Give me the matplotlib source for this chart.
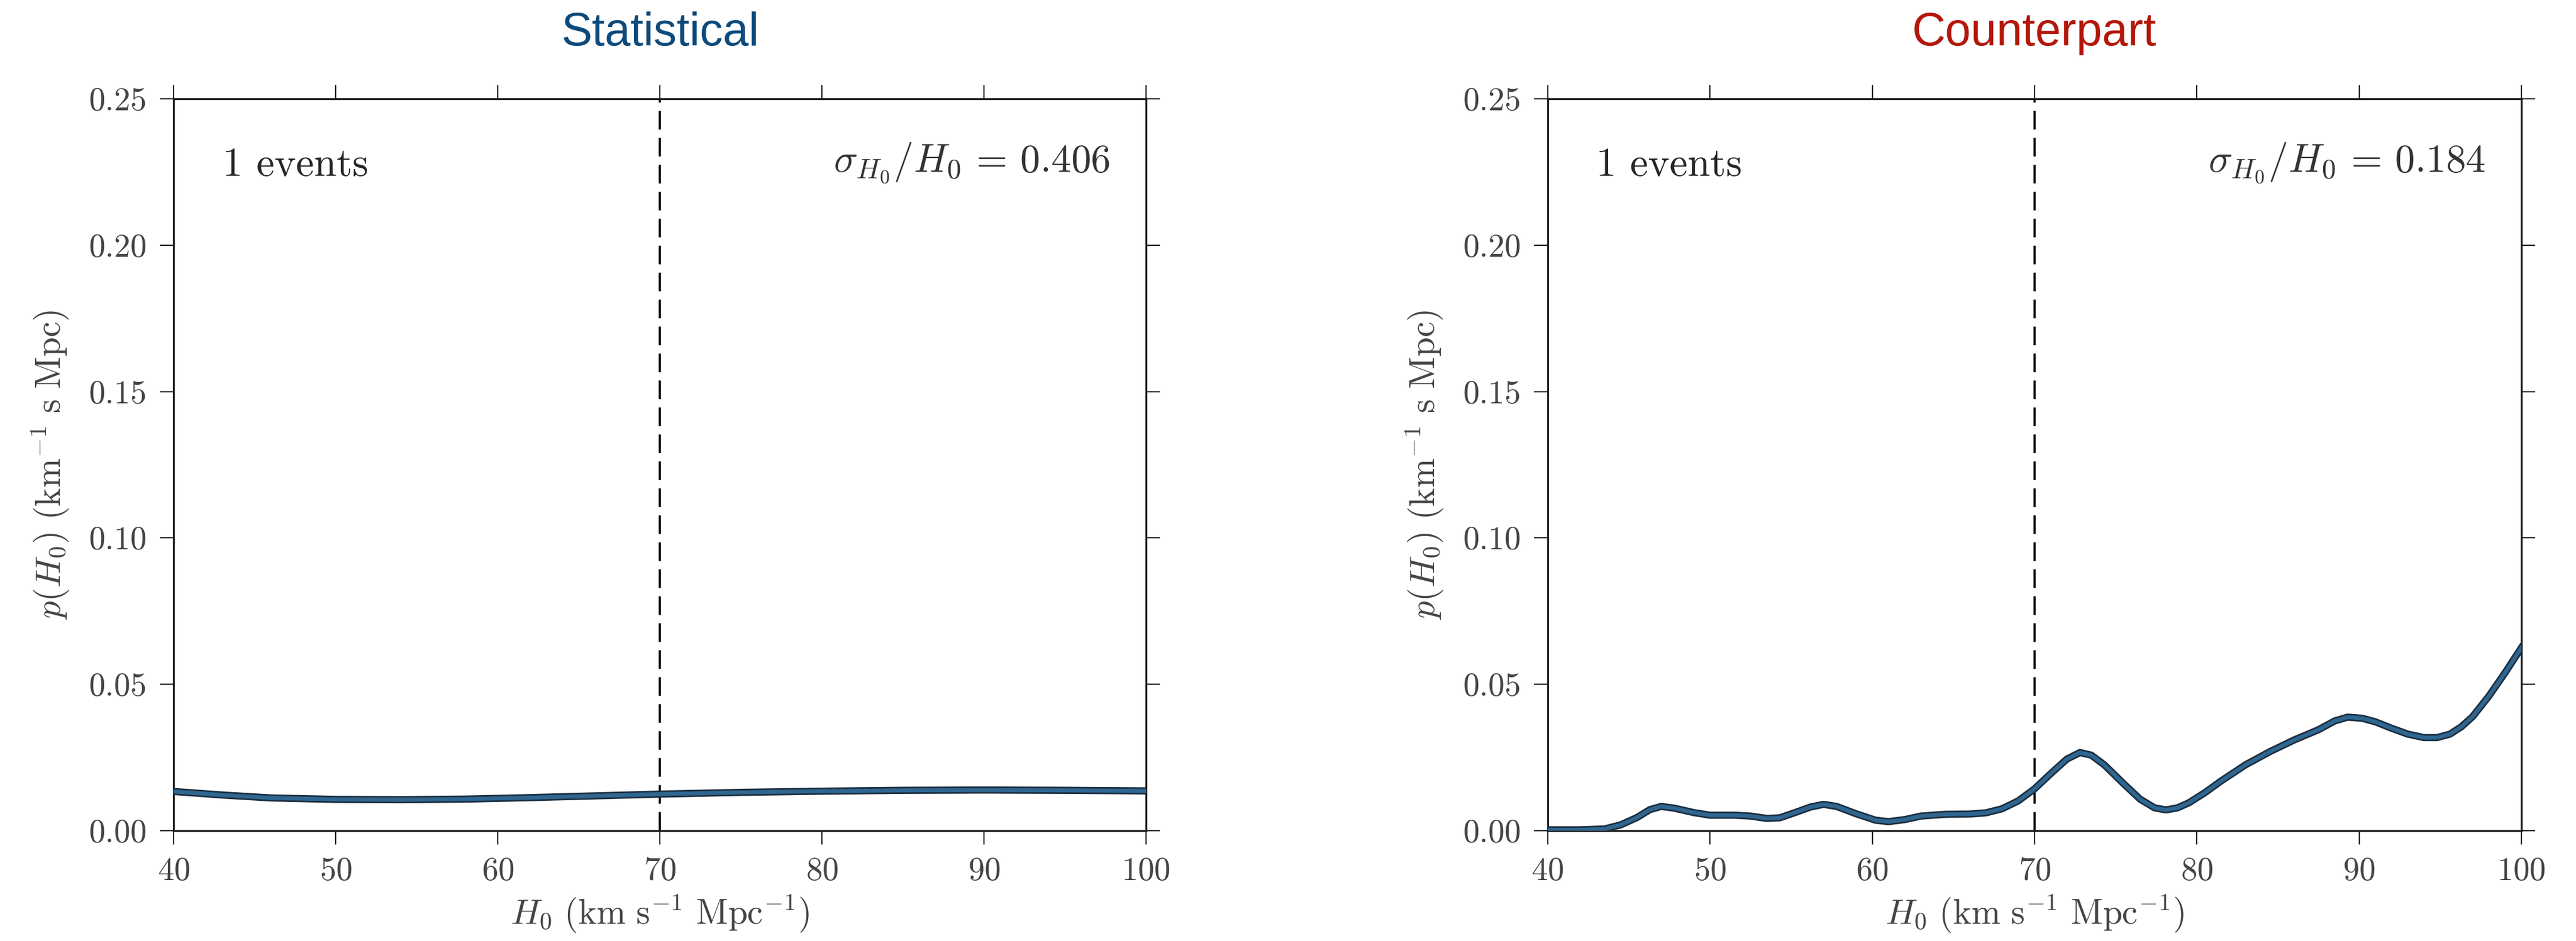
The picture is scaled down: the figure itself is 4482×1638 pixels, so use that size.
import numpy as np
import matplotlib
matplotlib.use('Agg')
import matplotlib.pyplot as plt

# Data
H0_stat = [40, 43, 46, 50, 54, 58, 62, 66, 70, 75, 80, 85, 90, 95, 100]
p_stat = [0.0134, 0.0122, 0.0112, 0.0107, 0.0106, 0.0108, 0.0113, 0.0119,
          0.0125, 0.0131, 0.0135, 0.0138, 0.0139, 0.0138, 0.0136]

H0_cp = [40, 42, 43.5, 44.5, 45.5, 46.3, 47, 47.8, 49, 50, 51.5, 52.5, 53.5,
         54.3, 55.3, 56.2, 57, 57.8, 59, 60.2, 61, 62, 63, 64.5, 66, 67, 68,
         69, 70, 71, 72, 72.8, 73.5, 74.3, 75.5, 76.5, 77.4, 78.1, 78.8, 79.5,
         80.5, 81.5, 83, 84.5, 86, 87.5, 88.5, 89.3, 90.2, 91, 92, 93, 94,
         94.8, 95.6, 96.3, 97, 98, 99, 100]
p_cp = [0.0003, 0.0003, 0.0006, 0.0020, 0.0045, 0.0072, 0.0083, 0.0077,
        0.0062, 0.0053, 0.0053, 0.0050, 0.0042, 0.0044, 0.0063, 0.0081,
        0.0090, 0.0083, 0.0058, 0.0036, 0.0031, 0.0038, 0.0050, 0.0056,
        0.0057, 0.0061, 0.0075, 0.0102, 0.0143, 0.0195, 0.0245, 0.0267,
        0.0258, 0.0225, 0.0160, 0.0108, 0.0078, 0.0071, 0.0078, 0.0095,
        0.0130, 0.0170, 0.0225, 0.0270, 0.0310, 0.0345, 0.0375, 0.0388,
        0.0384, 0.0372, 0.0350, 0.0330, 0.0318, 0.0318, 0.0330, 0.0355,
        0.0390, 0.0460, 0.0540, 0.0625]

H0_true = 70
titles = ['Statistical', 'Counterpart']
title_colors = ['#0d4a7c', '#b3170a']
sigma_frac = [0.406, 0.184]
n_events = 1

plt.rcParams['mathtext.fontset'] = 'cm'
plt.rcParams['font.family'] = 'serif'
plt.rcParams['font.serif'] = ['cmr10']
plt.rcParams['axes.formatter.use_mathtext'] = True

fig = plt.figure(figsize=(44.82, 16.38), dpi=100)
ax1 = fig.add_axes([0.0674, 0.1172, 0.3775, 0.7778])
ax2 = fig.add_axes([0.6008, 0.1172, 0.3780, 0.7778])

label_col = '#444444'
for ax, H, p, sig, ttl, tcol in zip([ax1, ax2], [H0_stat, H0_cp], [p_stat, p_cp],
                                    sigma_frac, titles, title_colors):
    ax.plot(H, p, color='#1b2d3e', lw=9, solid_joinstyle='round', zorder=3)
    ax.plot(H, p, color='#2f6690', lw=5, solid_joinstyle='round', zorder=4)
    ax.axvline(H0_true, color='black', lw=2.6, dashes=(9, 4), zorder=2)
    ax.set_xlim(40, 100)
    ax.set_ylim(0, 0.25)
    ax.set_xticks(np.arange(40, 101, 10))
    ax.set_yticks(np.arange(0, 0.251, 0.05))
    ax.yaxis.set_major_formatter(matplotlib.ticker.FormatStrFormatter('%.2f'))
    ax.tick_params(direction='out', length=17, width=1.6, top=True, right=True,
                   labelsize=41, labelcolor=label_col, pad=16, color='#222222')
    for s in ax.spines.values():
        s.set_linewidth(2.4)
        s.set_color('#1a1a1a')
    ax.set_xlabel(r'$H_0\ (\mathrm{km\ s^{-1}\ Mpc^{-1}})$', fontsize=44,
                  color=label_col, labelpad=8)
    ax.set_ylabel(r'$p(H_0)\ (\mathrm{km^{-1}\ s\ Mpc})$', fontsize=44,
                  color=label_col, labelpad=22)
    ax.text(0.05, 0.895, '%d events' % n_events, transform=ax.transAxes,
            fontsize=51, color='#262626', va='baseline', ha='left')
    ax.text(0.963, 0.9, r'$\sigma_{H_0}/H_0\,=\,%.3f$' % sig, transform=ax.transAxes,
            fontsize=50, color='#333333', va='baseline', ha='right')
    bb = ax.get_position()
    fig.text((bb.x0 + bb.x1) / 2, 0.952, ttl, fontsize=58, color=tcol,
             family='Liberation Sans', ha='center', va='baseline')

fig.savefig('out.png', dpi=100, facecolor='white')
